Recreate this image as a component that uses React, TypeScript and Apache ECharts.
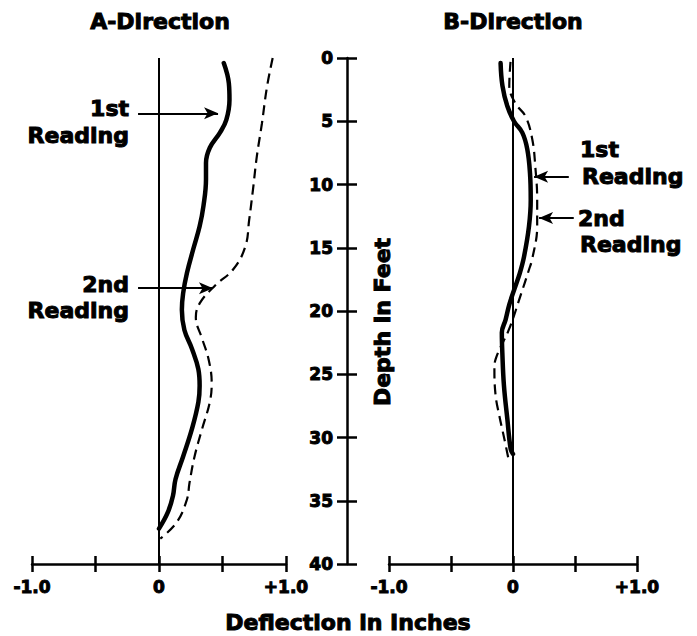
import React, { useEffect, useRef } from "react";
import * as echarts from "echarts";

// ---- Data (deflection in inches vs depth in feet) ----
const aFirstDepth = [0.4, 2.0, 3.3, 4.9, 5.9, 7.1, 8.3, 9.6, 11.7, 13.3, 15.1, 17.0, 18.6, 19.9, 21.5, 23.0, 24.6, 25.9, 27.2, 29.3, 31.5, 33.3, 34.6, 35.9, 37.2];
const aFirstDefl = [0.51, 0.55, 0.555, 0.53, 0.48, 0.40, 0.37, 0.37, 0.35, 0.32, 0.27, 0.22, 0.19, 0.18, 0.20, 0.26, 0.31, 0.32, 0.31, 0.26, 0.19, 0.13, 0.11, 0.07, 0.0];

const aSecondDepth = [0, 2.3, 5.2, 7.8, 10.4, 12.8, 14.9, 16.7, 18.0, 19.4, 20.5, 22.2, 23.8, 25.7, 27.2, 29.3, 31.5, 33.6, 34.9, 36.7, 38.0];
const aSecondDefl = [0.895, 0.85, 0.81, 0.77, 0.74, 0.71, 0.68, 0.585, 0.44, 0.32, 0.29, 0.34, 0.39, 0.415, 0.40, 0.34, 0.28, 0.24, 0.22, 0.14, 0.01];

const bFirstDepth = [0.4, 2.2, 3.8, 5.0, 5.9, 7.2, 9.1, 11.2, 13.3, 15.7, 17.0, 18.3, 19.5, 20.7, 21.7, 23.3, 25.9, 28.5, 30.9, 31.3];
const bFirstDefl = [-0.10, -0.085, -0.046, 0.008, 0.075, 0.115, 0.137, 0.143, 0.129, 0.089, 0.055, 0.01, -0.03, -0.06, -0.09, -0.086, -0.073, -0.046, -0.019, 0.0];

const bSecondDepth = [0.3, 2.2, 3.6, 4.6, 6.4, 8.6, 11.2, 13.3, 15.9, 16.7, 18.8, 21.4, 23.8, 24.6, 26.7, 28.3, 30.1, 32.0];
const bSecondDefl = [-0.02, -0.03, 0.02, 0.10, 0.155, 0.18, 0.195, 0.195, 0.155, 0.13, 0.06, -0.03, -0.14, -0.15, -0.14, -0.11, -0.07, -0.03];

const zeroLine = [0, 40];
const deflTickLabels: Record<string, string> = { "-1": "-1.0", "0": "0", "1": "+1.0" };

// arrows: [fromDefl, toDefl, depth]
const aArrows = [
  [-0.165, 0.465, 4.37],
  [-0.165, 0.425, 18.2],
];
const bArrows = [
  [0.45, 0.17, 9.38],
  [0.49, 0.21, 12.65],
];

const FONT = "'DejaVu Sans'";
const W = "bold";
const STROKE = 1.0;

const pairs = (d: number[], x: number[]) => x.map((v, i) => [v, d[i]]);

function xAxes(gridIndex: number, withLabels: boolean, inside: boolean) {
  return {
    type: "value",
    gridIndex,
    min: -1,
    max: 1,
    interval: 0.5,
    position: "bottom",
    splitLine: { show: false },
    axisLine: { show: withLabels, onZero: false, lineStyle: { color: "#000", width: 2.5 } },
    axisTick: { show: true, inside, length: 8, lineStyle: { color: "#000", width: 2.5 } },
    axisLabel: {
      show: withLabels,
      margin: 14,
      color: "#000",
      fontFamily: FONT,
      fontWeight: W,
      fontSize: 17,
      textBorderColor: "#000",
      textBorderWidth: STROKE,
      formatter: (v: number) => deflTickLabels[String(v)] ?? "",
    },
  };
}

function yAxis(gridIndex: number, show: boolean, inside: boolean, withLabels: boolean) {
  return {
    type: "value",
    gridIndex,
    min: 0,
    max: 40,
    interval: 5,
    inverse: true,
    show,
    position: "left",
    offset: 42,
    splitLine: { show: false },
    axisLine: { show: withLabels, onZero: false, lineStyle: { color: "#000", width: 2.5 } },
    axisTick: { show: true, inside, length: 10, lineStyle: { color: "#000", width: 2.5 } },
    axisLabel: {
      show: withLabels,
      margin: 14,
      color: "#000",
      fontFamily: FONT,
      fontWeight: W,
      fontSize: 17,
      textBorderColor: "#000",
      textBorderWidth: STROKE,
    },
  };
}

function arrowMarks(arrows: number[][]) {
  return {
    silent: true,
    symbol: ["none", "arrow"],
    symbolSize: [9, 14],
    label: { show: false },
    lineStyle: { color: "#000", width: 2, type: "solid" },
    emphasis: { disabled: true },
    data: arrows.map(([a, b, d]) => [
      { coord: [a, d] },
      { coord: [b, d] },
    ]),
  };
}

function lineSeries(idx: number, data: number[][], dashed: boolean, extra: any = {}) {
  return {
    type: "line",
    xAxisIndex: idx,
    yAxisIndex: idx,
    data,
    smooth: 0.4,
    showSymbol: false,
    symbol: "none",
    lineStyle: dashed
      ? { color: "#000", width: 2.2, type: [10, 6] }
      : { color: "#000", width: 4.5, type: "solid", cap: "round" },
    ...extra,
  };
}

const textStyle = (text: string, align: string, size = 22) => ({
  text,
  fill: "#000",
  stroke: "#000",
  lineWidth: STROKE,
  font: `${W} ${size}px ${FONT}`,
  textAlign: align,
  textVerticalAlign: "middle",
});

export default function App() {
  const ref = useRef<HTMLDivElement>(null);
  useEffect(() => {
    if (!ref.current) return;
    const chart = echarts.init(ref.current, undefined, { renderer: "svg" });
    const option: any = {
      animation: false,
      backgroundColor: "#fff",
      grid: [
        { left: 32, width: 254, top: 58, height: 506 },
        { left: 389, width: 248, top: 58, height: 506 },
      ],
      xAxis: [
        xAxes(0, true, false),
        xAxes(1, true, false),
        xAxes(0, false, true),
        xAxes(1, false, true),
      ],
      yAxis: [
        yAxis(0, false, false, false),
        yAxis(1, true, false, true),
        yAxis(1, true, true, false),
      ],
      series: [
        {
          type: "line",
          xAxisIndex: 0,
          yAxisIndex: 0,
          data: zeroLine.map((d) => [0, d]),
          showSymbol: false,
          symbol: "none",
          lineStyle: { color: "#000", width: 2 },
          markLine: arrowMarks(aArrows),
        },
        lineSeries(0, pairs(aFirstDepth, aFirstDefl), false),
        lineSeries(0, pairs(aSecondDepth, aSecondDefl), true),
        {
          type: "line",
          xAxisIndex: 1,
          yAxisIndex: 1,
          data: zeroLine.map((d) => [0, d]),
          showSymbol: false,
          symbol: "none",
          lineStyle: { color: "#000", width: 2 },
          markLine: arrowMarks(bArrows),
        },
        lineSeries(1, pairs(bFirstDepth, bFirstDefl), false),
        lineSeries(1, pairs(bSecondDepth, bSecondDefl), true),
      ],
      graphic: [
        { type: "text", x: 160, y: 21, style: textStyle("A-Direction", "center") },
        { type: "text", x: 513, y: 21, style: textStyle("B-Direction", "center") },
        { type: "text", x: 129, y: 108, style: textStyle("1st", "right") },
        { type: "text", x: 129, y: 135, style: textStyle("Reading", "right") },
        { type: "text", x: 129, y: 284, style: textStyle("2nd", "right") },
        { type: "text", x: 129, y: 310, style: textStyle("Reading", "right") },
        { type: "text", x: 580, y: 149, style: textStyle("1st", "left") },
        { type: "text", x: 582, y: 176, style: textStyle("Reading", "left") },
        { type: "text", x: 578, y: 218, style: textStyle("2nd", "left") },
        { type: "text", x: 580, y: 244, style: textStyle("Reading", "left") },
        { type: "text", x: 348, y: 622, style: textStyle("Deflection in Inches", "center", 22) },
        {
          type: "text",
          x: 382,
          y: 322,
          rotation: Math.PI / 2,
          style: textStyle("Depth in Feet", "center", 22),
        },
      ],
    };
    chart.setOption(option);
    return () => chart.dispose();
  }, []);
  return (
    <div
      ref={ref}
      style={{ position: "absolute", left: 0, top: 0, width: 697, height: 636 }}
    />
  );
}
